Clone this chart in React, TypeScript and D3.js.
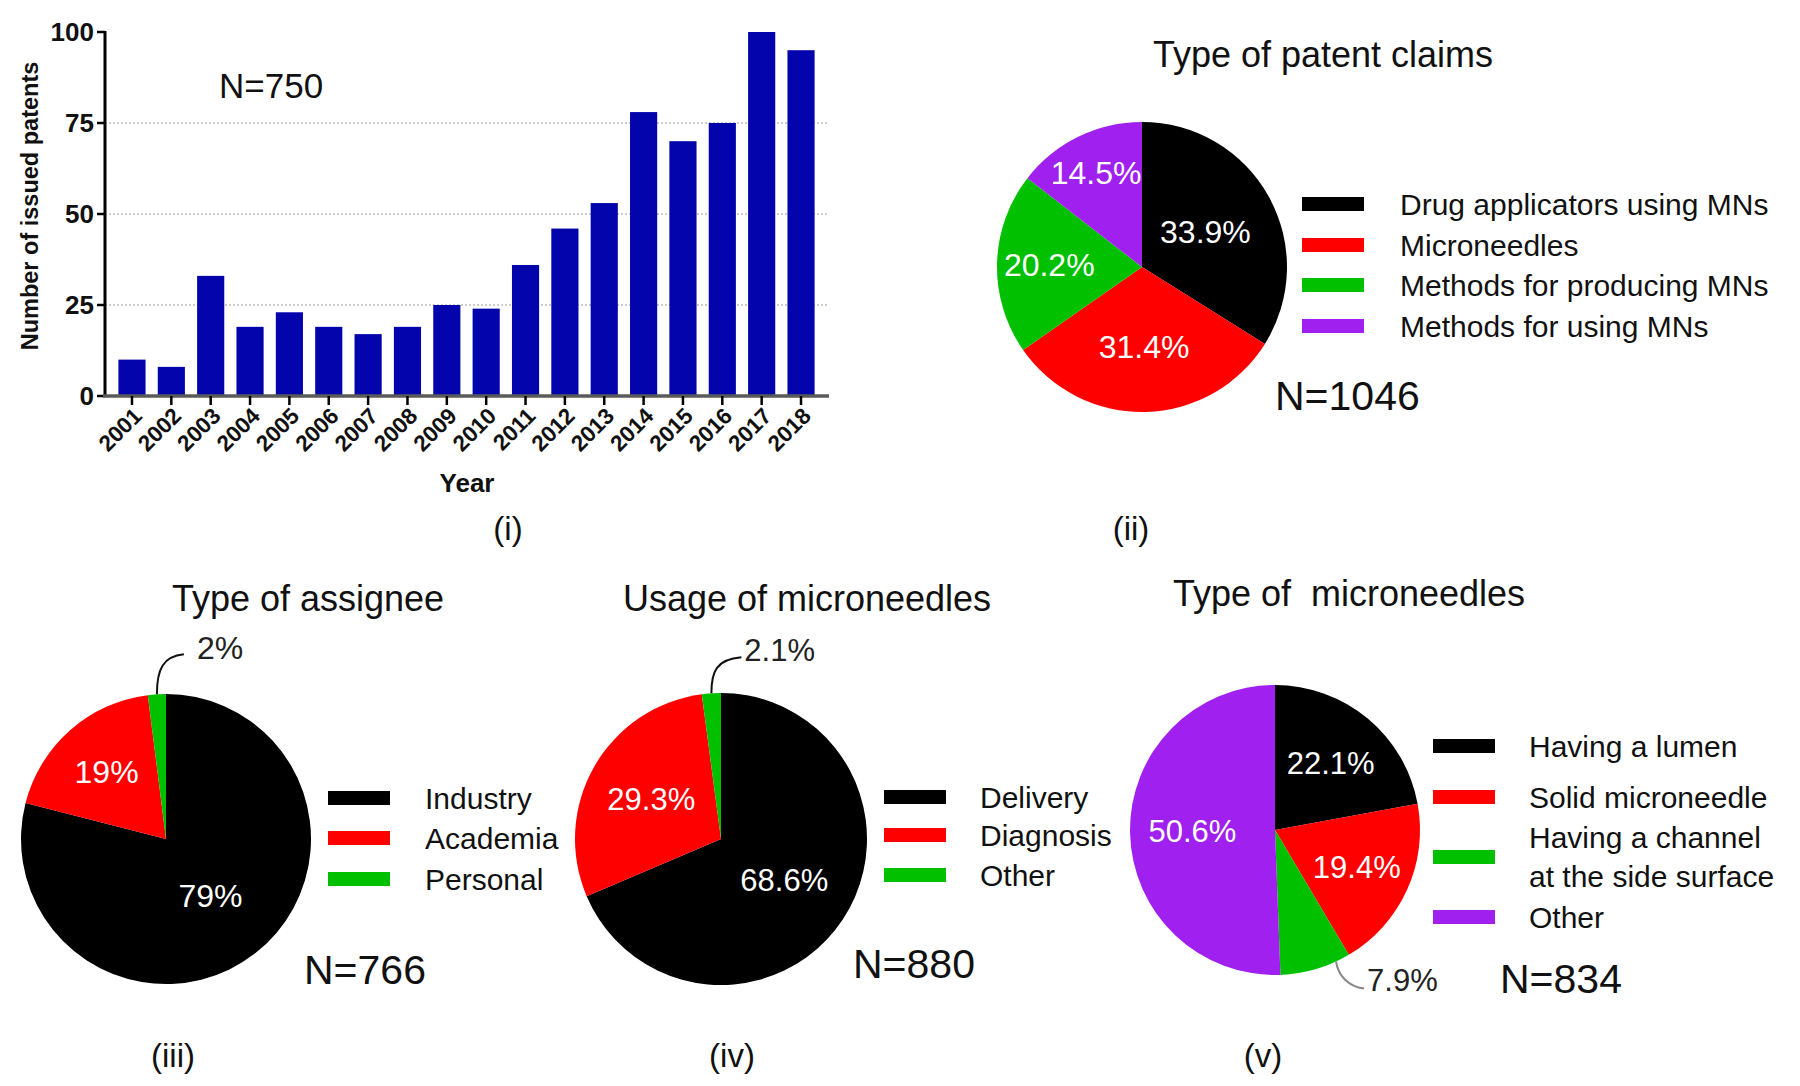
import React from 'react';
import * as d3 from 'd3';

// ---------- DATA ----------
const years = ['2001','2002','2003','2004','2005','2006','2007','2008','2009','2010','2011','2012','2013','2014','2015','2016','2017','2018'];
const patentCounts = [10, 8, 33, 19, 23, 19, 17, 19, 25, 24, 36, 46, 53, 78, 70, 75, 100, 95];
const yTicks = [0, 25, 50, 75, 100];
const gridTicks = [25, 50, 75];

const claimLabels = ['Drug applicators using MNs', 'Microneedles', 'Methods for producing MNs', 'Methods for using MNs'];
const claimValues = [33.9, 31.4, 20.2, 14.5];

const assigneeLabels = ['Industry', 'Academia', 'Personal'];
const assigneeValues = [79, 19, 2];

const usageLabels = ['Delivery', 'Diagnosis', 'Other'];
const usageValues = [68.6, 29.3, 2.1];

const typeLabels = [['Having a lumen'], ['Solid microneedle'], ['Having a channel', 'at the side surface'], ['Other']];
const typeValues = [22.1, 19.4, 7.9, 50.6];

const sliceColors = ['#000000', '#ff0000', '#00c000', '#a020f0'];
const barColor = '#0404ac';
const FONT = '"Liberation Sans", Arial, Helvetica, sans-serif';

// ---------- BAR CHART ----------
function BarChart() {
  const x = d3.scaleBand<string>().domain(years).range([112.3, 820.7]).paddingInner(0.31).paddingOuter(0.155);
  const y = d3.scaleLinear().domain([0, 100]).range([396, 32]);
  const axisX = 105;
  const xEnd = 829;
  return (
    <g>
      {gridTicks.map(t => (
        <line key={'g' + t} x1={axisX} x2={xEnd} y1={y(t)} y2={y(t)} stroke="#bdbdbd" strokeWidth={1.5} strokeDasharray="2,2" />
      ))}
      {years.map((yr, i) => (
        <rect key={yr} x={x(yr)} y={y(patentCounts[i])} width={x.bandwidth()} height={y(0) - y(patentCounts[i])} fill={barColor} />
      ))}
      <line x1={axisX} x2={axisX} y1={y(100) - 1} y2={y(0)} stroke="#000" strokeWidth={3} />
      {yTicks.map(t => (
        <g key={'t' + t}>
          <line x1={axisX - 8} x2={axisX} y1={y(t)} y2={y(t)} stroke="#000" strokeWidth={2.5} />
          <text x={axisX - 11} y={y(t)} textAnchor="end" dominantBaseline="central" fontSize={26} fontWeight="bold" fill="#111">{t}</text>
        </g>
      ))}
      <line x1={axisX - 2} x2={xEnd} y1={y(0)} y2={y(0)} stroke="#5a5a5a" strokeWidth={3.5} />
      {years.map(yr => {
        const cx = (x(yr) as number) + x.bandwidth() / 2;
        return (
          <g key={'x' + yr}>
            <line x1={cx} x2={cx} y1={y(0)} y2={y(0) + 9} stroke="#000" strokeWidth={2.5} />
            <text transform={`translate(${cx + 6},${y(0) + 16}) rotate(-45)`} textAnchor="end" dominantBaseline="central" fontSize={22.5} fontWeight="bold" fill="#111">{yr}</text>
          </g>
        );
      })}
      <text transform={`translate(30,${(y(0) + y(100)) / 2 - 8}) rotate(-90)`} textAnchor="middle" dominantBaseline="central" fontSize={23.5} fontWeight="bold" fill="#111">Number of issued patents</text>
      <text x={467} y={492} textAnchor="middle" fontSize={26} fontWeight="bold" fill="#111">Year</text>
      <text x={219} y={98} fontSize={35} fill="#111">N=750</text>
    </g>
  );
}

// ---------- PIE ----------
type Callout = { index: number; frac: number; path: number[]; text: [number, number]; color: string };

function Pie(props: {
  cx: number; cy: number; r: number; values: number[]; fmt: string;
  labelK: (number | null)[]; callout?: Callout; fontSize?: number;
}) {
  const { cx, cy, r, values, fmt, labelK, callout, fontSize = 31 } = props;
  const pie = d3.pie<number>().sort(null).value(d => d).startAngle(0).endAngle(2 * Math.PI);
  const arcs = pie(values);
  const arc = d3.arc<d3.PieArcDatum<number>>().innerRadius(0).outerRadius(r);
  const f = d3.format(fmt);
  let calloutEl = null;
  if (callout) {
    const a = arcs[callout.index];
    const ang = a.startAngle + (a.endAngle - a.startAngle) * callout.frac;
    const sx = cx + r * Math.sin(ang);
    const sy = cy - r * Math.cos(ang);
    const p = callout.path;
    const d = `M${sx},${sy} C${sx + p[0]},${sy + p[1]} ${sx + p[2]},${sy + p[3]} ${sx + p[4]},${sy + p[5]}`;
    calloutEl = (
      <g>
        <path d={d} fill="none" stroke={callout.color} strokeWidth={2} />
        <text x={sx + callout.text[0]} y={sy + callout.text[1]} fontSize={fontSize} fill="#222">{f(values[callout.index])}%</text>
      </g>
    );
  }
  return (
    <g>
      <g transform={`translate(${cx},${cy})`}>
        {arcs.map((a, i) => (
          <path key={i} d={arc(a) as string} fill={sliceColors[i]} />
        ))}
        {arcs.map((a, i) => {
          const k = labelK[i];
          if (k == null) return null;
          const c = d3.arc<d3.PieArcDatum<number>>().innerRadius(k * r).outerRadius(k * r).centroid(a);
          return (
            <text key={'l' + i} x={c[0]} y={c[1]} textAnchor="middle" dominantBaseline="central" fontSize={fontSize} fill="#fff">{f(values[i])}%</text>
          );
        })}
      </g>
      {calloutEl}
    </g>
  );
}

function Legend(props: { x: number; textX: number; rows: number[]; labels: string[][]; lineGap?: number; fontSize?: number }) {
  const { x, textX, rows, labels, lineGap = 39, fontSize = 30 } = props;
  return (
    <g>
      {labels.map((lines, i) => (
        <g key={i}>
          <rect x={x} y={rows[i] - 7} width={62} height={14} fill={sliceColors[i]} />
          {lines.map((ln, j) => (
            <text key={j} x={textX} y={rows[i] + (j - (lines.length - 1) / 2) * lineGap} dominantBaseline="central" fontSize={fontSize} fill="#111">{ln}</text>
          ))}
        </g>
      ))}
    </g>
  );
}

export default function App() {
  return (
    <svg width={1800} height={1086} style={{ position: 'absolute', left: 0, top: 0, display: 'block', background: '#fff' }} fontFamily={FONT}>
      <rect width={1800} height={1086} fill="#fff" />
      <BarChart />
      <text x={508} y={540} textAnchor="middle" fontSize={33} fill="#111">(i)</text>

      {/* (ii) */}
      <text x={1323} y={67} textAnchor="middle" fontSize={36} fill="#111">Type of patent claims</text>
      <Pie cx={1142} cy={267} r={145} values={claimValues} fmt=".1f" labelK={[0.5, 0.55, 0.64, 0.72]} fontSize={32} />
      <Legend x={1302} textX={1400} rows={[204, 245, 285, 326]} labels={claimLabels.map(s => [s])} />
      <text x={1275} y={410} fontSize={41} fill="#111">N=1046</text>
      <text x={1131} y={540} textAnchor="middle" fontSize={33} fill="#111">(ii)</text>

      {/* (iii) */}
      <text x={308} y={611} textAnchor="middle" fontSize={36} fill="#111">Type of assignee</text>
      <Pie cx={166} cy={839} r={145} values={assigneeValues} fmt=".0f" labelK={[0.5, 0.62, null]} fontSize={32}
        callout={{ index: 2, frac: 0.5, path: [0, -25, 6, -38, 27, -40], text: [40, -35], color: '#111' }} />
      <Legend x={328} textX={425} rows={[798, 838, 879]} labels={assigneeLabels.map(s => [s])} />
      <text x={304} y={984} fontSize={41} fill="#111">N=766</text>
      <text x={173} y={1067} textAnchor="middle" fontSize={33} fill="#111">(iii)</text>

      {/* (iv) */}
      <text x={807} y={611} textAnchor="middle" fontSize={36} fill="#111">Usage of microneedles</text>
      <Pie cx={721} cy={839} r={146} values={usageValues} fmt=".1f" labelK={[0.52, 0.55, null]} fontSize={31}
        callout={{ index: 2, frac: 0.5, path: [0, -22, 5, -34, 30, -36], text: [33, -32], color: '#111' }} />
      <Legend x={884} textX={980} rows={[797, 835, 875]} labels={usageLabels.map(s => [s])} />
      <text x={853} y={978} fontSize={41} fill="#111">N=880</text>
      <text x={732} y={1067} textAnchor="middle" fontSize={33} fill="#111">(iv)</text>

      {/* (v) */}
      <text x={1349} y={606} textAnchor="middle" fontSize={36} fill="#111" style={{ whiteSpace: 'pre' }}>{'Type of  microneedles'}</text>
      <Pie cx={1275} cy={830} r={145} values={typeValues} fmt=".1f" labelK={[0.6, 0.62, null, 0.57]} fontSize={31}
        callout={{ index: 2, frac: 0.2, path: [2, 14, 12, 25, 28, 27], text: [31, 29], color: '#888' }} />
      <Legend x={1433} textX={1529} rows={[746, 797, 857, 917]} labels={typeLabels} />
      <text x={1500} y={993} fontSize={41} fill="#111">N=834</text>
      <text x={1263} y={1067} textAnchor="middle" fontSize={33} fill="#111">(v)</text>
    </svg>
  );
}
